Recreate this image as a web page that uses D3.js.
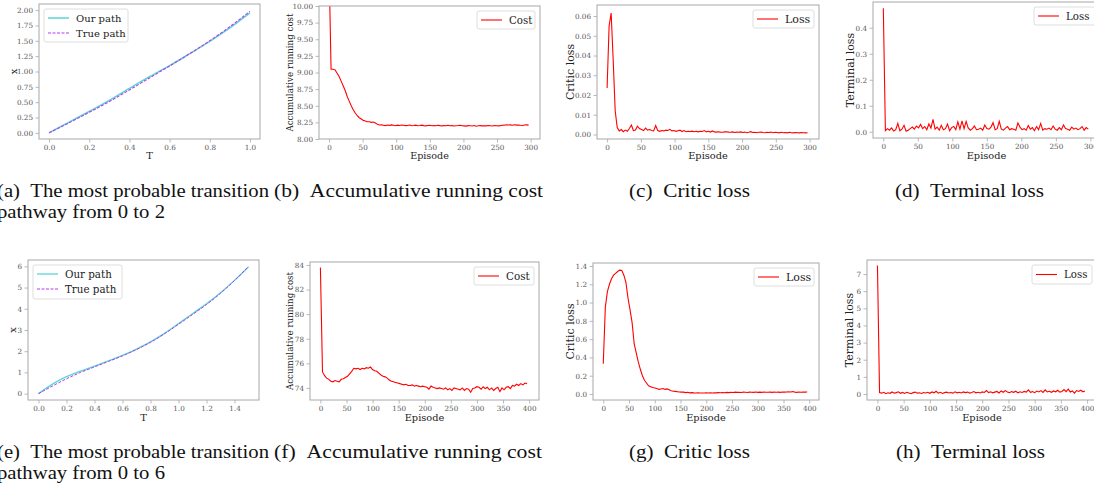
<!DOCTYPE html>
<html>
<head>
<meta charset="utf-8">
<script src="https://cdn.jsdelivr.net/npm/d3@7"></script>
<style>
    body { margin: 0; background: #fff; }
</style>
</head>
<body>
<svg id="fig" width="1094" height="493"></svg>
<script>
// ---- data ----

// transition pathway 0 -> 2
var pathT1 = [0, 0.1, 0.2, 0.3, 0.4, 0.5, 0.6, 0.7, 0.8, 0.9, 1.0];
var ourPath1 = [0, 0.175, 0.35, 0.53, 0.725, 0.915, 1.095, 1.29, 1.49, 1.71, 1.955];
var truePath1 = [0, 0.165, 0.335, 0.51, 0.70, 0.895, 1.09, 1.29, 1.50, 1.73, 1.98];

// transition pathway 0 -> 6
var pathT2 = [0, 0.1, 0.2, 0.3, 0.4, 0.5, 0.6, 0.7, 0.8, 0.9, 1.0, 1.1, 1.2, 1.3, 1.4, 1.5];
var ourPath2 = [0, 0.45, 0.80, 1.06, 1.30, 1.55, 1.80, 2.10, 2.44, 2.84, 3.30, 3.77, 4.24, 4.76, 5.34, 5.97];
var truePath2 = [0, 0.36, 0.70, 1.00, 1.26, 1.52, 1.78, 2.08, 2.42, 2.82, 3.27, 3.73, 4.20, 4.73, 5.33, 6.00];

// first run: one value every 3 episodes
var step1 = 3;
var cost1 = [10.6, 9.05, 9.05, 9.04, 8.99, 8.94, 8.87, 8.80, 8.73, 8.64,
    8.57, 8.50, 8.44, 8.39, 8.35, 8.32, 8.30, 8.28, 8.27, 8.26,
    8.26, 8.25, 8.255, 8.24, 8.22, 8.21, 8.212,
    8.208, 8.202, 8.210, 8.205, 8.212, 8.207, 8.200, 8.209, 8.203, 8.211,
    8.206, 8.201, 8.204, 8.210, 8.199, 8.203, 8.208, 8.200, 8.202, 8.209,
    8.201, 8.198, 8.203, 8.207, 8.200, 8.202, 8.199, 8.206, 8.201, 8.197,
    8.202, 8.200, 8.206, 8.199, 8.201, 8.196, 8.200, 8.203, 8.207, 8.199,
    8.198, 8.194, 8.201, 8.199, 8.196, 8.202, 8.193, 8.199, 8.201, 8.197,
    8.200, 8.198, 8.202, 8.199, 8.196, 8.203, 8.200, 8.197, 8.201, 8.206,
    8.208, 8.214, 8.210, 8.212, 8.207, 8.215, 8.209, 8.211, 8.206, 8.203,
    8.210, 8.212, 8.209];
var criticLoss1 = [0.0235, 0.055, 0.0615, 0.038, 0.012, 0.0035, 0.0018, 0.0025, 0.0014, 0.0022,
    0.0016, 0.0030, 0.0048, 0.0020, 0.0022, 0.0042, 0.0030, 0.0025, 0.0020, 0.0032,
    0.0022, 0.0025, 0.0020, 0.0018, 0.0045, 0.0020, 0.0016, 0.0020, 0.0018, 0.0022,
    0.0020, 0.0026, 0.0018, 0.0020, 0.0016, 0.0019, 0.0022, 0.0015, 0.0020, 0.0014,
    0.0016, 0.0015, 0.0017, 0.0014, 0.0016, 0.0013, 0.0016, 0.0015, 0.0020, 0.0013,
    0.0016, 0.0012, 0.0018, 0.0013, 0.0012, 0.0014, 0.0012, 0.0011, 0.0013, 0.0014,
    0.0012, 0.0011, 0.0013, 0.0010, 0.0012, 0.0011, 0.0013, 0.0010, 0.0012, 0.0009,
    0.0011, 0.0014, 0.0010, 0.0011, 0.0009, 0.0011, 0.0012, 0.0010, 0.0009, 0.0011,
    0.0010, 0.0012, 0.0009, 0.0011, 0.0010, 0.0008, 0.0011, 0.0009, 0.0010, 0.0008,
    0.0011, 0.0009, 0.0008, 0.0010, 0.0009, 0.0008, 0.0010, 0.0009, 0.0008, 0.0009];
var terminalLoss1 = [0.475, 0.004, 0.012, 0.006, 0.015, 0.003, 0.008, 0.032, 0.004, 0.010,
    0.025, 0.002, 0.006, 0.012, 0.018, 0.010, 0.022, 0.015, 0.028, 0.012,
    0.020, 0.008, 0.030, 0.014, 0.048, 0.010, 0.018, 0.006, 0.025, 0.008,
    0.012, 0.030, 0.004, 0.016, 0.020, 0.008, 0.038, 0.010, 0.042, 0.012,
    0.040, 0.015, 0.006, 0.012, 0.022, 0.008, 0.010, 0.014, 0.006, 0.026,
    0.012, 0.010, 0.018, 0.035, 0.008, 0.012, 0.040, 0.010, 0.006, 0.014,
    0.020, 0.008, 0.012, 0.010, 0.006, 0.034, 0.018, 0.008, 0.012, 0.006,
    0.024, 0.010, 0.016, 0.004, 0.020, 0.008, 0.032, 0.006, 0.012, 0.010,
    0.014, 0.008, 0.022, 0.010, 0.006, 0.016, 0.008, 0.026, 0.012, 0.010,
    0.006, 0.018, 0.010, 0.014, 0.008, 0.012, 0.020, 0.006, 0.016, 0.010];

// second run: one value every 4 episodes
var step2 = 4;
var cost2 = [83.8, 75.3, 75.0, 74.8, 74.7, 74.55, 74.5, 74.6, 74.55, 74.5,
    74.7, 74.75, 74.85, 74.95, 75.15, 75.35, 75.6, 75.55, 75.6, 75.5,
    75.6, 75.55, 75.65, 75.6, 75.7, 75.5, 75.4, 75.35, 75.2, 75.05,
    74.95, 74.9, 74.8, 74.65, 74.55, 74.5, 74.45, 74.4, 74.35, 74.3,
    74.25, 74.3, 74.2, 74.2, 74.25, 74.15, 74.2, 74.15, 74.1, 74.15,
    74.1, 74.05, 73.9, 74.15, 74.05, 74.0, 73.95, 74.0, 73.95, 73.9,
    74.0, 73.85, 73.95, 73.8, 74.0, 73.95, 73.9, 73.85, 74.0, 73.8,
    73.95, 73.9, 73.65, 73.95, 74.0, 74.1, 74.05, 73.9, 74.1, 73.95,
    74.05, 73.85, 74.0, 73.8, 73.95, 74.05, 73.7, 74.0, 73.85, 74.05,
    74.1, 73.95, 74.2, 74.15, 74.3, 74.2, 74.35, 74.25, 74.4, 74.35];
var criticLoss2 = [0.33, 0.95, 1.12, 1.2, 1.26, 1.3, 1.32, 1.34, 1.355, 1.35,
    1.3, 1.22, 1.05, 0.92, 0.78, 0.55, 0.45, 0.35, 0.27, 0.2,
    0.15, 0.12, 0.09, 0.08, 0.07, 0.065, 0.06, 0.05, 0.055, 0.06,
    0.05, 0.055, 0.045, 0.035, 0.03, 0.028, 0.025, 0.022, 0.02, 0.02,
    0.015, 0.018, 0.012, 0.015, 0.012, 0.01, 0.012, 0.01, 0.011, 0.01,
    0.012, 0.01, 0.013, 0.011, 0.014, 0.012, 0.015, 0.013, 0.016, 0.014,
    0.017, 0.015, 0.018, 0.016, 0.02, 0.017, 0.019, 0.016, 0.02, 0.018,
    0.016, 0.02, 0.018, 0.017, 0.021, 0.018, 0.02, 0.017, 0.021, 0.019,
    0.018, 0.02, 0.017, 0.021, 0.019, 0.02, 0.018, 0.022, 0.02, 0.021,
    0.024, 0.022, 0.026, 0.02, 0.018, 0.021, 0.019, 0.022, 0.02, 0.021];
var terminalLoss2 = [7.5, 0.08, 0.05, 0.1, 0.02, 0.07, 0.04, 0.12, 0.05, 0.08,
    0.13, 0.04, 0.09, 0.03, 0.1, 0.06, 0.02, 0.08, 0.11, 0.05,
    0.07, 0.03, 0.09, 0.06, 0.1, 0.04, 0.12, 0.07, 0.16, 0.05,
    0.1, 0.03, 0.08, 0.11, 0.06, 0.09, 0.05, 0.13, 0.07, 0.1,
    0.06, 0.12, 0.08, 0.11, 0.05, 0.09, 0.14, 0.07, 0.1, 0.06,
    0.12, 0.09, 0.2, 0.08, 0.13, 0.07, 0.11, 0.15, 0.06, 0.18,
    0.1, 0.2, 0.12, 0.08, 0.14, 0.1, 0.16, 0.07, 0.13, 0.09,
    0.15, 0.11, 0.24, 0.1, 0.14, 0.08, 0.17, 0.12, 0.2, 0.09,
    0.24, 0.12, 0.16, 0.1, 0.18, 0.13, 0.22, 0.11, 0.15, 0.26,
    0.14, 0.28, 0.12, 0.18, 0.05, 0.2, 0.15, 0.22, 0.13, 0.17];

// tick values
var ticksT1 = [0, 0.2, 0.4, 0.6, 0.8, 1.0];
var ticksT2 = [0, 0.2, 0.4, 0.6, 0.8, 1.0, 1.2, 1.4];
var ticksEp300 = [0, 50, 100, 150, 200, 250, 300];
var ticksEp400 = [0, 50, 100, 150, 200, 250, 300, 350, 400];
var ticksPath1 = [0, 0.25, 0.5, 0.75, 1, 1.25, 1.5, 1.75, 2];
var ticksCost1 = [8, 8.25, 8.5, 8.75, 9, 9.25, 9.5, 9.75, 10];
var ticksCritic1 = [0, 0.01, 0.02, 0.03, 0.04, 0.05, 0.06];
var ticksTerminal1 = [0, 0.1, 0.2, 0.3, 0.4];
var ticksPath2 = [0, 1, 2, 3, 4, 5, 6];
var ticksCost2 = [74, 76, 78, 80, 82, 84];
var ticksCritic2 = [0, 0.2, 0.4, 0.6, 0.8, 1.0, 1.2, 1.4];
var ticksTerminal2 = [0, 1, 2, 3, 4, 5, 6, 7];

// subfigure captions
var captions = [
    ["(a)\u2002The most probable transition", "pathway from 0 to 2"],
    ["(b)\u2002Accumulative running cost"],
    ["(c)\u2002Critic loss"],
    ["(d)\u2002Terminal loss"],
    ["(e)\u2002The most probable transition", "pathway from 0 to 6"],
    ["(f)\u2002Accumulative running cost"],
    ["(g)\u2002Critic loss"],
    ["(h)\u2002Terminal loss"]
];

// ---- drawing ----
var svg = d3.select("#fig");
var serif = "DejaVu Serif";
var spineColor = "#a8a8a8";

function zipT(ts, vals) {
    return ts.map(function(t, i){ return [t, vals[i]]; });
}
function zipStep(step, vals) {
    return vals.map(function(v, i){ return [i * step, v]; });
}

function drawPanel(cfg, idx) {
    var b = cfg.box; // [left, right, top, bottom]
    var x = d3.scaleLinear().domain(cfg.xDomain).range([b[0], b[1]]);
    var y = d3.scaleLinear().domain(cfg.yDomain).range([b[3], b[2]]);

    var g = svg.append("g");

    // clip region = axes area
    svg.append("clipPath").attr("id", "clip" + idx)
        .append("rect")
        .attr("x", b[0]).attr("y", b[2])
        .attr("width", b[1] - b[0]).attr("height", b[3] - b[2]);

    var line = d3.line()
        .x(function(d){ return x(d[0]); })
        .y(function(d){ return y(d[1]); });
    if (cfg.smooth) line.curve(d3.curveMonotoneX);

    cfg.series.forEach(function(s){
        g.append("path")
            .datum(s.data)
            .attr("clip-path", "url(#clip" + idx + ")")
            .attr("fill", "none")
            .attr("stroke", s.color)
            .attr("stroke-width", s.width)
            .attr("stroke-dasharray", s.dash || null)
            .attr("d", line);
    });

    // axes
    var xAxis = d3.axisBottom(x).tickValues(cfg.xTicks)
        .tickFormat(d3.format(cfg.xFmt)).tickSize(3.5).tickPadding(2.5);
    var yAxis = d3.axisLeft(y).tickValues(cfg.yTicks)
        .tickFormat(d3.format(cfg.yFmt)).tickSize(3.5).tickPadding(2.5);

    var xg = g.append("g").attr("transform", "translate(0," + b[3] + ")").call(xAxis);
    var yg = g.append("g").attr("transform", "translate(" + b[0] + ",0)").call(yAxis);
    [xg, yg].forEach(function(ax){
        ax.select(".domain").remove();
        ax.attr("font-family", serif).attr("font-size", 7.2);
        ax.selectAll(".tick line").attr("stroke", spineColor).attr("stroke-width", 0.8);
        ax.selectAll(".tick text").attr("fill", "#555");
    });

    // frame
    g.append("rect")
        .attr("x", b[0]).attr("y", b[2])
        .attr("width", b[1] - b[0]).attr("height", b[3] - b[2])
        .attr("fill", "none")
        .attr("stroke", spineColor)
        .attr("stroke-width", 1);

    // axis labels
    g.append("text")
        .attr("x", (b[0] + b[1]) / 2)
        .attr("y", b[3] + cfg.xLabelOff)
        .attr("text-anchor", "middle")
        .attr("font-family", serif)
        .attr("font-size", cfg.xLabelSize)
        .attr("fill", "#222")
        .text(cfg.xLabel);

    g.append("text")
        .attr("transform", "translate(" + (b[0] - cfg.yLabelOff) + "," + ((b[2] + b[3]) / 2) + ") rotate(-90)")
        .attr("dy", "0.35em")
        .attr("text-anchor", "middle")
        .attr("font-family", serif)
        .attr("font-size", cfg.yLabelSize)
        .attr("fill", "#222")
        .text(cfg.yLabel);

    // legend
    var L = cfg.legend;
    var lx = L.left ? b[0] + 5 : b[1] - 5 - L.w;
    var ly = b[2] + 5;
    var lg = g.append("g").attr("transform", "translate(" + lx + "," + ly + ")");
    lg.append("rect")
        .attr("width", L.w).attr("height", L.h)
        .attr("rx", 2)
        .attr("fill", "#fff").attr("fill-opacity", 0.85)
        .attr("stroke", "#d6d6d6").attr("stroke-width", 0.8);
    cfg.series.forEach(function(s, i){
        var rowY = cfg.series.length == 1 ? L.h / 2 : 9 + i * 15;
        lg.append("line")
            .attr("x1", 4).attr("x2", 25)
            .attr("y1", rowY).attr("y2", rowY)
            .attr("stroke", s.color)
            .attr("stroke-width", s.width)
            .attr("stroke-dasharray", s.dash || null);
        lg.append("text")
            .attr("x", 32).attr("y", rowY)
            .attr("dy", "0.35em")
            .attr("font-family", serif)
            .attr("font-size", L.size)
            .attr("fill", "#222")
            .text(s.name);
    });
}

var ourColor = "#5ad6d6", trueColor = "#b63cf0", red = "#ff0000";

var panels = [
    { box: [39, 260, 4, 139], xDomain: [-0.05, 1.05], yDomain: [-0.1, 2.1],
      xTicks: ticksT1, yTicks: ticksPath1, xFmt: ".1f", yFmt: ".2f", smooth: true,
      xLabel: "T", yLabel: "x", xLabelOff: 20, yLabelOff: 26, xLabelSize: 10, yLabelSize: 10,
      legend: { left: true, w: 84, h: 33, size: 10 },
      series: [
        { name: "Our path", data: zipT(pathT1, ourPath1), color: ourColor, width: 1.5 },
        { name: "True path", data: zipT(pathT1, truePath1), color: trueColor, width: 1.1, dash: "3,1.5" }
      ] },
    { box: [319, 540, 6, 139], xDomain: [-14.95, 313.95], yDomain: [8, 10],
      xTicks: ticksEp300, yTicks: ticksCost1, xFmt: "d", yFmt: ".2f",
      xLabel: "Episode", yLabel: "Accumulative running cost", xLabelOff: 20, yLabelOff: 29, xLabelSize: 9.6, yLabelSize: 8.7,
      legend: { w: 58, h: 18, size: 10.2 },
      series: [ { name: "Cost", data: zipStep(step1, cost1), color: red, width: 1.1 } ] },
    { box: [597, 819, 5, 139], xDomain: [-14.95, 313.95], yDomain: [-0.0023, 0.0656],
      xTicks: ticksEp300, yTicks: ticksCritic1, xFmt: "d", yFmt: ".2f",
      xLabel: "Episode", yLabel: "Critic loss", xLabelOff: 20, yLabelOff: 27, xLabelSize: 9.8, yLabelSize: 11,
      legend: { w: 61, h: 18, size: 11 },
      series: [ { name: "Loss", data: zipStep(step1, criticLoss1), color: red, width: 1.1 } ] },
    { box: [873, 1100, 2, 138], xDomain: [-14.95, 313.95], yDomain: [-0.024, 0.499],
      xTicks: ticksEp300, yTicks: ticksTerminal1, xFmt: "d", yFmt: ".1f",
      xLabel: "Episode", yLabel: "Terminal loss", xLabelOff: 21, yLabelOff: 23, xLabelSize: 9.8, yLabelSize: 11,
      legend: { w: 61, h: 18, size: 10.2 },
      series: [ { name: "Loss", data: zipStep(step1, terminalLoss1), color: red, width: 1.1 } ] },
    { box: [28, 259, 260, 400], xDomain: [-0.075, 1.575], yDomain: [-0.3, 6.3],
      xTicks: ticksT2, yTicks: ticksPath2, xFmt: ".1f", yFmt: "d", smooth: true,
      xLabel: "T", yLabel: "x", xLabelOff: 21, yLabelOff: 16, xLabelSize: 10, yLabelSize: 10,
      legend: { left: true, w: 89, h: 34, size: 10.3 },
      series: [
        { name: "Our path", data: zipT(pathT2, ourPath2), color: ourColor, width: 1.3 },
        { name: "True path", data: zipT(pathT2, truePath2), color: trueColor, width: 1.0, dash: "3,1.5" }
      ] },
    { box: [310, 539, 262, 400], xDomain: [-19.95, 418.95], yDomain: [73.02, 84.24],
      xTicks: ticksEp400, yTicks: ticksCost2, xFmt: "d", yFmt: "d",
      xLabel: "Episode", yLabel: "Accumulative running cost", xLabelOff: 21, yLabelOff: 20, xLabelSize: 9.8, yLabelSize: 8.7,
      legend: { w: 60, h: 18, size: 10.4 },
      series: [ { name: "Cost", data: zipStep(step2, cost2), color: red, width: 1.1 } ] },
    { box: [593, 819, 263, 400], xDomain: [-19.95, 418.95], yDomain: [-0.066, 1.433],
      xTicks: ticksEp400, yTicks: ticksCritic2, xFmt: "d", yFmt: ".1f",
      xLabel: "Episode", yLabel: "Critic loss", xLabelOff: 21, yLabelOff: 23, xLabelSize: 9.8, yLabelSize: 11,
      legend: { w: 60, h: 18, size: 11 },
      series: [ { name: "Loss", data: zipStep(step2, criticLoss2), color: red, width: 1.1 } ] },
    { box: [867, 1097, 260, 400], xDomain: [-19.95, 418.95], yDomain: [-0.35, 7.82],
      xTicks: ticksEp400, yTicks: ticksTerminal2, xFmt: "d", yFmt: "d",
      xLabel: "Episode", yLabel: "Terminal loss", xLabelOff: 21, yLabelOff: 18, xLabelSize: 9.8, yLabelSize: 11,
      legend: { w: 60, h: 19, size: 10.2 },
      series: [ { name: "Loss", data: zipStep(step2, terminalLoss2), color: red, width: 1.1 } ] }
];

panels.forEach(drawPanel);

// captions under each row (left edge, fitted width)
var capPos = [
    { x: -3, y: 197, w: [272, 168] },
    { x: 274, y: 197, w: [269] },
    { x: 629, y: 197, w: [121] },
    { x: 895, y: 197, w: [149] },
    { x: -3, y: 458, w: [272, 168] },
    { x: 274, y: 458, w: [268] },
    { x: 629, y: 458, w: [121] },
    { x: 896, y: 458, w: [149] }
];
captions.forEach(function(lines, i){
    lines.forEach(function(t, j){
        svg.append("text")
            .attr("x", capPos[i].x)
            .attr("y", capPos[i].y + j * 21)
            .attr("font-family", "Liberation Serif")
            .attr("font-size", 19.5)
            .attr("fill", "#111")
            .attr("textLength", capPos[i].w[j])
            .attr("lengthAdjust", "spacingAndGlyphs")
            .text(t);
    });
});
</script>
</body>
</html>
